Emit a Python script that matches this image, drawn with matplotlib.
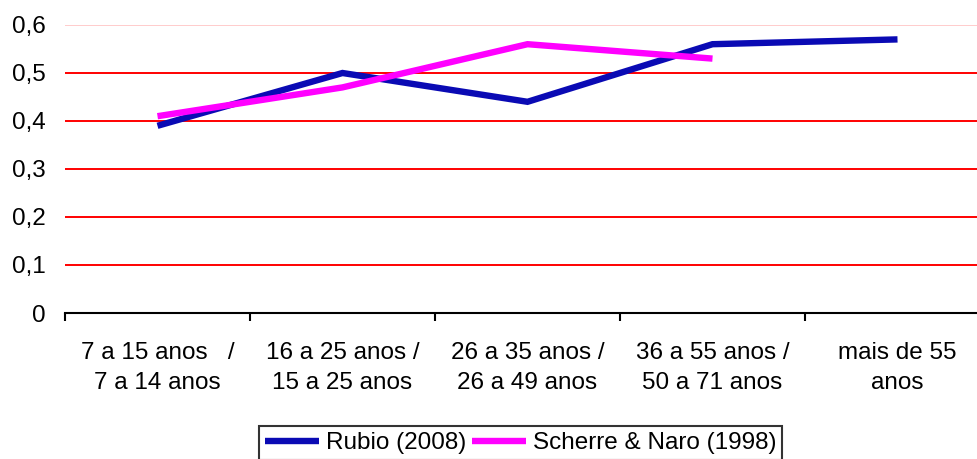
import numpy as np
import matplotlib.pyplot as plt

# data
categories = ["7 a 15 anos   /\n7 a 14 anos",
              "16 a 25 anos /\n15 a 25 anos",
              "26 a 35 anos /\n26 a 49 anos",
              "36 a 55 anos /\n50 a 71 anos",
              "mais de 55\nanos"]
rubio = [0.39, 0.50, 0.44, 0.56, 0.57]
scherre = [0.41, 0.47, 0.56, 0.53]
y_ticks = [0, 0.1, 0.2, 0.3, 0.4, 0.5, 0.6]
y_labels = ["0", "0,1", "0,2", "0,3", "0,4", "0,5", "0,6"]

plt.rcParams["font.family"] = ["Liberation Sans", "DejaVu Sans"]

fig = plt.figure(figsize=(9.77, 4.59), dpi=100)
ax = fig.add_axes([65 / 977, 146 / 459, 925 / 977, 288 / 459])

x = np.arange(len(categories))

# gridlines
for v in y_ticks[1:-1]:
    ax.axhline(v, color="#FF0000", lw=1.4, zorder=1)
ax.axhline(0.6, color="#FFC4C4", lw=1.2, zorder=1)

ax.plot(x, rubio, color="#0A0AB4", lw=4.6, solid_joinstyle="miter",
        solid_capstyle="butt", label="Rubio (2008)", zorder=3)
ax.plot(x[:len(scherre)], scherre, color="#FF00FF", lw=4.6,
        solid_joinstyle="miter", solid_capstyle="butt",
        label="Scherre & Naro (1998)", zorder=3)

ax.set_xlim(-0.5, 4.5)
ax.set_ylim(0, 0.6)

for s in ["top", "right", "left"]:
    ax.spines[s].set_visible(False)
ax.spines["bottom"].set_color("black")
ax.spines["bottom"].set_linewidth(1.5)

ax.set_xticks(np.arange(-0.5, 5, 1))
ax.set_xticklabels([])
ax.tick_params(axis="x", which="major", direction="out", length=6, width=1.5)
ax.set_xticks(x, minor=True)
ax.set_xticklabels(categories, minor=True, fontsize=17.5, linespacing=1.45)
ax.tick_params(axis="x", which="minor", length=0, pad=21)

ax.set_yticks(y_ticks)
ax.set_yticklabels(y_labels, fontsize=17.5)
ax.tick_params(axis="y", length=0, pad=14)

leg = fig.legend(loc="upper center", bbox_to_anchor=(0.533, 0.072), ncol=2,
                 fontsize=17.5, frameon=True, fancybox=False,
                 handlelength=2.2, handletextpad=0.3, columnspacing=0.25,
                 borderpad=0.25, borderaxespad=0)
leg.get_frame().set_edgecolor("black")
leg.get_frame().set_linewidth(1.5)

fig.savefig("out.png", dpi=100)
